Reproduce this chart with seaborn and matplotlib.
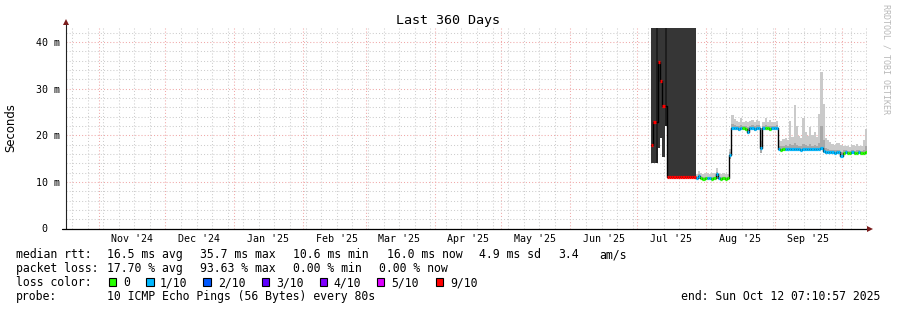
import numpy as np
import pandas as pd
import matplotlib
matplotlib.use("Agg")
import matplotlib.pyplot as plt
import matplotlib.dates as mdates
from matplotlib.patches import Rectangle
from matplotlib.transforms import blended_transform_factory
from matplotlib.ticker import MultipleLocator, FixedLocator, NullFormatter
import seaborn as sns

# ------------------------------------------------------------------ data
range_start = "2024-10-17 07:10:57"
range_end = "2025-10-12 07:10:57"
data_start = "2025-07-07 07:10:57"      # first daily step that holds data

median_ms = [
    17.9, 22.9, np.nan, 35.7, 31.7, 26.3, np.nan,
    11.0, 11.0, 11.0, 11.0, 11.0, 11.0, 11.0, 11.0, 11.0, 11.0, 11.0, 11.0, 11.0,
    10.8, 11.3, 10.8, 10.7, 10.8, 10.8, 10.8, 10.7, 10.8, 11.6, 10.8, 10.7, 10.8, 10.7, 10.8,
    15.8,
    21.6, 21.5, 21.5, 21.4, 21.5, 21.5, 21.4, 20.6, 21.5, 21.5, 21.4, 21.5, 21.6, 17.2,
    21.5, 21.5, 21.5, 21.4, 21.5, 21.5, 21.6,
    17.1, 16.9, 17.0, 17.0, 17.0, 17.1, 17.0, 17.0, 17.0, 17.0, 16.9, 17.0, 17.0, 17.0,
    17.0, 17.0, 17.0, 17.0, 17.1, 17.2, 16.6,
    16.3, 16.3, 16.3, 16.3, 16.2, 16.3, 16.3, 15.6, 16.2, 16.3, 16.2, 16.2, 16.3, 16.2,
    16.2, 16.3, 16.2, 16.2, 16.3,
]
loss_of_10 = [
    9, 9, 10, 9, 9, 9, 10,
    9, 9, 9, 9, 9, 9, 9, 9, 9, 9, 9, 9, 9,
    1, 1, 0, 0, 0, 1, 1, 0, 0, 1, 1, 0, 0, 0, 0,
    1,
    1, 1, 1, 1, 1, 0, 0, 1, 1, 1, 1, 1, 1, 1, 1, 0, 0, 0, 1, 1, 1,
    1, 0, 0, 1, 1, 1, 1, 1, 1, 1, 1, 1, 1, 1, 1, 1, 1, 1, 1, 1, 1,
    1, 1, 1, 1, 1, 1, 1, 1, 0, 1, 0, 0, 1, 0, 0, 1, 0, 0, 0,
]
smoke_lo_ms = [
    14.1, 14.1, 14.0, 17.2, 19.4, 15.4, 22.0,
    10.8, 10.8, 10.8, 10.8, 10.8, 10.8, 10.8, 10.8, 10.8, 10.8, 10.8, 10.8, 10.8,
    10.6, 10.6, 10.6, 10.5, 10.6, 10.6, 10.6, 10.5, 10.6, 10.7, 10.6, 10.5, 10.6, 10.5, 10.6,
    15.0,
    21.2, 21.1, 21.1, 21.0, 21.1, 21.1, 21.0, 20.3, 21.1, 21.1, 21.0, 21.1, 21.2, 16.1,
    21.1, 21.1, 21.1, 21.0, 21.1, 21.1, 21.2,
    16.8, 16.6, 16.7, 16.7, 16.7, 16.8, 16.7, 16.7, 16.7, 16.7, 16.6, 16.7, 16.7, 16.7,
    16.7, 16.7, 16.7, 16.7, 16.8, 16.8, 16.2,
    16.0, 16.0, 16.0, 16.0, 15.9, 16.0, 16.0, 15.3, 15.9, 16.0, 15.9, 15.9, 16.0, 15.9,
    15.9, 16.0, 15.9, 15.9, 16.0,
]
smoke_core_ms = [
    np.nan, np.nan, np.nan, np.nan, np.nan, np.nan, np.nan,
    np.nan, np.nan, np.nan, np.nan, np.nan, np.nan, np.nan, np.nan, np.nan, np.nan, np.nan, np.nan, np.nan,
    11.0, 11.6, 11.0, 11.0, 11.1, 11.1, 11.0, 11.0, 11.1, 12.1, 11.1, 11.0, 11.0, 11.0, 11.0,
    16.5,
    22.4, 22.1, 22.0, 21.9, 22.2, 22.0, 21.9, 21.7, 22.0, 22.1, 21.9, 22.1, 22.2, 18.8,
    22.0, 22.1, 22.0, 21.9, 22.0, 22.0, 22.1,
    17.8, 17.6, 17.7, 17.9, 17.7, 18.2, 17.9, 18.4, 18.0, 17.8, 17.7, 18.1, 17.9, 17.8,
    18.1, 17.8, 17.9, 17.7, 18.4, 22.0, 19.0,
    17.3, 17.1, 16.9, 16.9, 16.8, 16.9, 16.9, 16.5, 16.8, 16.8, 16.7, 16.7, 16.8, 16.7,
    16.8, 16.8, 16.7, 16.9, 17.6,
]
# nan = pings lost, the smoke runs off the top of the graph
smoke_hi_ms = [
    np.nan, np.nan, np.nan, np.nan, np.nan, np.nan, np.nan,
    np.nan, np.nan, np.nan, np.nan, np.nan, np.nan, np.nan, np.nan, np.nan, np.nan, np.nan, np.nan, np.nan,
    11.7, 12.3, 11.8, 11.6, 11.9, 11.8, 11.7, 11.9, 12.0, 13.0, 11.8, 11.7, 11.8, 11.6, 11.7,
    17.0,
    24.4, 23.4, 23.0, 22.9, 23.6, 22.9, 23.0, 22.8, 23.1, 23.3, 22.9, 23.2, 23.0, 21.5,
    22.9, 23.8, 22.9, 23.2, 22.8, 22.9, 23.0,
    19.0, 18.7, 19.2, 19.5, 19.0, 23.0, 19.6, 26.5, 21.9, 19.8, 19.4, 23.8, 20.6, 19.8,
    21.8, 20.0, 20.8, 19.6, 24.5, 33.6, 26.8,
    19.4, 19.0, 18.5, 18.2, 18.0, 18.4, 18.3, 17.9, 17.6, 17.8, 17.6, 17.5, 17.9, 17.7,
    18.1, 17.8, 17.6, 19.0, 21.3,
]

month_label_dates = ["2024-11-16", "2024-12-16", "2025-01-16", "2025-02-16", "2025-03-16",
                     "2025-04-16", "2025-05-16", "2025-06-16", "2025-07-16", "2025-08-16",
                     "2025-09-16"]
month_labels = ["Nov '24", "Dec '24", "Jan '25", "Feb '25", "Mar '25", "Apr '25",
                "May '25", "Jun '25", "Jul '25", "Aug '25", "Sep '25"]
y_ticks = [0, 10, 20, 30, 40]
y_tick_labels = ["0  ", "10 m", "20 m", "30 m", "40 m"]

loss_legend_labels = ["0", "1/10", "2/10", "3/10", "4/10", "5/10", "9/10"]
loss_legend_colors = ["#26ff00", "#00b8ff", "#0059ff", "#5e00ff", "#7e00ff", "#dd00ff", "#ff0000"]

rtt_stats = ["16.5 ms avg", "35.7 ms max", "10.6 ms min", "16.0 ms now", "4.9 ms sd", "3.4", "am/s"]
loss_stats = ["17.70 % avg", "93.63 % max", "0.00 % min", "0.00 % now"]
probe_text = "10 ICMP Echo Pings (56 Bytes) every 80s"
end_text = "end: Sun Oct 12 07:10:57 2025"
title_text = "Last 360 Days"

# ------------------------------------------------------------------ style
sns.set_style("white")
MONO = ["DejaVu Sans Mono"]
plt.rcParams["font.family"] = MONO

W, H = 897, 310
YTOP = 43.0
fig = plt.figure(figsize=(W / 100, H / 100), dpi=100)
fig.patch.set_facecolor("white")
AX_L, AX_R, AX_B, AX_T = 66, 867, 228.5, 28
ax = fig.add_axes([AX_L / W, 1 - AX_B / H, (AX_R - AX_L) / W, (AX_B - AX_T) / H])
ax.set_facecolor("white")

med = np.array(median_ms, float)
loss = np.array(loss_of_10, int)
lo = np.array(smoke_lo_ms, float)
core = np.array(smoke_core_ms, float)
hi = np.array(smoke_hi_ms, float)
t = mdates.date2num(pd.date_range(data_start, periods=len(med), freq="D"))

def loss_bucket(n):
    if n <= 4:
        return n
    if n <= 8:
        return 5
    return 6

def outer_smoke(n):
    if n >= 10:
        return "#1e1e1e"
    if n >= 9:
        return "#363636"
    return "#cacaca"

hi_draw = np.where(np.isnan(hi), YTOP + 10, hi)
ax.bar(t, hi_draw - lo, bottom=lo, width=1.0, align="edge",
       color=[outer_smoke(n) for n in loss], linewidth=0, antialiased=False, zorder=2)
m = ~np.isnan(core)
ax.bar(t[m], core[m] - lo[m], bottom=lo[m], width=1.0, align="edge",
       color="#a8a8a8", linewidth=0, antialiased=False, zorder=2.1)

# median: black stepped line + loss coloured segments
sns.lineplot(x=t, y=med, ax=ax, color="black", linewidth=1.0,
             drawstyle="steps-post", estimator=None, sort=False, zorder=3)
ok = ~np.isnan(med)
ax.hlines(med[ok], t[ok], t[ok] + 1.0,
          colors=[loss_legend_colors[loss_bucket(n)] for n in loss[ok]],
          linewidth=2.3, zorder=4)

# axes, grids
x0 = mdates.date2num(pd.Timestamp(range_start))
x1 = mdates.date2num(pd.Timestamp(range_end))
ax.set_xlim(x0, x1)
ax.set_ylim(0, YTOP)
ax.xaxis.set_major_locator(mdates.MonthLocator())
ax.xaxis.set_minor_locator(mdates.WeekdayLocator(byweekday=mdates.SU))
ax.xaxis.set_major_formatter(NullFormatter())
ax.xaxis.set_minor_formatter(NullFormatter())
ax.yaxis.set_major_locator(FixedLocator(y_ticks))
ax.yaxis.set_minor_locator(MultipleLocator(2))
ax.set_yticklabels(y_tick_labels)
ax.set_axisbelow(True)
ax.grid(which="minor", color="#cdcdcd", linestyle=(0, (1, 2)), linewidth=0.75)
ax.grid(which="major", color="#f0a8a8", linestyle=(0, (1, 2)), linewidth=0.75)
ax.tick_params(axis="y", which="both", direction="out", length=2.3, width=0.7,
               color="#444444", pad=2.2, labelsize=7.2, labelcolor="black")
ax.tick_params(axis="x", which="major", direction="out", length=2.2, width=0.7,
               color="#f0a8a8", pad=1)
ax.tick_params(axis="x", which="minor", length=0)
for lab in ax.get_yticklabels():
    lab.set_family(MONO)
for s in ax.spines.values():
    s.set_visible(False)

# axis lines with arrows
ax.plot([0, 0], [0, (AX_B - 23) / (AX_B - AX_T)], transform=ax.transAxes,
        color="#222222", lw=0.8, clip_on=False, zorder=5)
ax.plot([-4 / 801, (869 - AX_L) / 801], [0, 0], transform=ax.transAxes,
        color="#000000", lw=0.9, clip_on=False, zorder=5)
ax.plot([0.0005], [(AX_B - 22) / (AX_B - AX_T)], marker="^", ms=4, color="#7a1c1c",
        transform=ax.transAxes, clip_on=False, zorder=6, markeredgewidth=0)
ax.plot([(870 - AX_L) / 801], [0], marker=">", ms=4, color="#7a1c1c",
        transform=ax.transAxes, clip_on=False, zorder=6, markeredgewidth=0)

# month labels, centred mid-month
trans = blended_transform_factory(ax.transData, fig.transFigure)
for d, lab in zip(month_label_dates, month_labels):
    ax.text(mdates.date2num(pd.Timestamp(d)), 1 - 242 / H, lab, transform=trans,
            ha="center", va="baseline", fontsize=7.2, family=MONO, color="black")

# titles and side texts
fig.text(447.7 / W, 1 - 24 / H, title_text, ha="center", va="baseline",
         fontsize=9.6, family=MONO, color="black")
fig.text(11 / W, 1 - 127.5 / H, "Seconds", rotation=90, ha="center", va="center",
         fontsize=8.4, family=["DejaVu Sans"], color="black")
fig.text(886 / W, 1 - 4 / H, "RRDTOOL / TOBI OETIKER", rotation=270, ha="center",
         va="top", fontsize=6.0, family=MONO, color="#b8b8b8")

# legend block
FS = 8.3
def ftext(x, base, s, **kw):
    fig.text(x / W, 1 - base / H, s, ha=kw.pop("ha", "left"), va="baseline",
             fontsize=FS, family=MONO, color="black", **kw)

row1, row2, row3, row4 = 258.3, 272.3, 286.3, 300.3
ftext(16, row1, "median rtt:")
for x, s in zip([107, 200, 293.3, 386.7, 479.3, 558.3, 599], rtt_stats):
    ftext(x, row1, s)
ftext(16, row2, "packet loss:")
for x, s in zip([107, 200, 293.3, 379.3], loss_stats):
    ftext(x, row2, s)
ftext(16, row3, "loss color:")
box_x = [108.5, 146, 203.3, 261.7, 319.5, 376.7, 435.7]
lab_x = [123.3, 160, 218.3, 276.7, 333.3, 391.7, 450]
for bx, lx, c, s in zip(box_x, lab_x, loss_legend_colors, loss_legend_labels):
    fig.add_artist(Rectangle((bx / W, 1 - 286 / H), 7.5 / W, 8.5 / H,
                             transform=fig.transFigure, facecolor=c,
                             edgecolor="black", linewidth=0.8))
    ftext(lx, row3, s)
ftext(16, row4, "probe:")
ftext(107, row4, probe_text)
ftext(880, row4, end_text, ha="right")

fig.savefig("out.png", dpi=100, facecolor="white")
